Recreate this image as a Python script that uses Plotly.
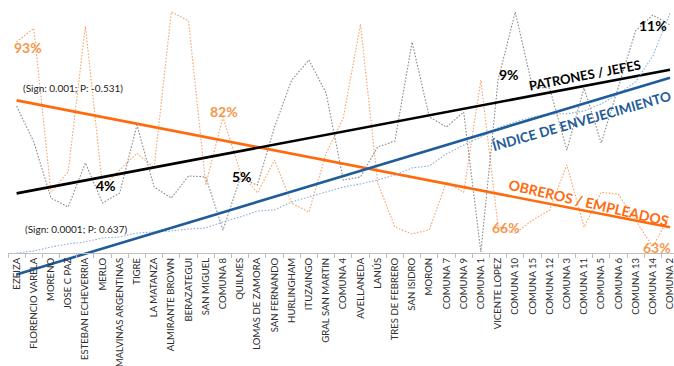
import numpy as np
import plotly.graph_objects as go

# Municipios / comunas ordered by their ageing index
municipios = [
    "EZEIZA", "FLORENCIO VARELA", "MORENO", "JOSE C PAZ", "ESTEBAN ECHEVERRIA",
    "MERLO", "MALVINAS ARGENTINAS", "TIGRE", "LA MATANZA", "ALMIRANTE BROWN",
    "BERAZATEGUI", "SAN MIGUEL", "COMUNA 8", "QUILMES", "LOMAS DE ZAMORA",
    "SAN FERNANDO", "HURLINGHAM", "ITUZAINGO", "GRAL SAN MARTIN", "COMUNA 4",
    "AVELLANEDA", "LANÚS", "TRES DE FEBRERO", "SAN ISIDRO", "MORON",
    "COMUNA 7", "COMUNA 9", "COMUNA 1", "VICENTE LOPEZ", "COMUNA 10",
    "COMUNA 15", "COMUNA 12", "COMUNA 3", "COMUNA 11", "COMUNA 5",
    "COMUNA 6", "COMUNA 13", "COMUNA 14", "COMUNA 2",
]

# % obreros / empleados
obreros_empleados = [
    93.0, 95.0, 71.0, 74.0, 95.3, 71.8, 74.3, 76.7, 74.6, 97.4,
    96.1, 72.1, 82.0, 74.0, 70.9, 75.7, 69.4, 68.1, 76.7, 81.9,
    95.6, 72.4, 65.9, 64.9, 65.5, 72.5, 71.0, 87.4, 66.0, 65.0,
    66.9, 68.4, 75.0, 65.9, 71.0, 70.7, 66.9, 63.0, 67.7,
]

# % patrones / jefes
patrones_jefes = [
    7.94, 6.48, 4.20, 3.84, 5.63, 4.00, 4.41, 7.17, 4.65, 4.20,
    5.10, 5.06, 2.90, 5.00, 4.73, 7.09, 9.00, 9.81, 8.47, 4.93,
    5.06, 6.28, 6.52, 10.54, 7.50, 7.09, 7.70, 2.01, 9.00, 11.76,
    8.72, 8.67, 6.15, 8.67, 6.44, 8.67, 11.00, 11.64, 11.24,
]

# Índice de envejecimiento
indice_envejecimiento = [
    20.0, 21.5, 24.5, 26.8, 28.3, 31.3, 32.0, 35.0, 35.8, 36.5,
    38.0, 38.8, 43.3, 47.0, 51.5, 52.3, 58.3, 62.0, 65.8, 69.5,
    71.8, 74.8, 78.5, 83.8, 85.3, 94.3, 101.0, 107.0, 113.8, 118.3,
    122.0, 124.3, 124.5, 126.5, 131.8, 139.3, 148.3, 167.8, 200.0,
]

# Points that carry a value label
etiquetas_obreros = ["EZEIZA", "COMUNA 8", "VICENTE LOPEZ", "COMUNA 14"]
etiquetas_patrones = ["MERLO", "QUILMES", "VICENTE LOPEZ", "COMUNA 13"]

W, H = 674, 366
ML, MB = 8, 76
PW, PH = W - ML, H - MB


def px(x):
    return (x - ML) / PW


def py(y):
    return (PH - y) / PH


C_OBR_THIN = "#F9A468"
C_OBR = "#FF6A0D"
C_OBR_LBL = "#F7964A"
C_PAT_THIN = "#8A8A8A"
C_IND_THIN = "#8FB2DC"
C_IND = "#1F5C99"
DOTS = "1.6px,1.6px"

idx = np.arange(len(municipios))


def tendencia(vals):
    m, b = np.polyfit(idx, np.asarray(vals, dtype=float), 1)
    return [b, m * idx[-1] + b]


fig = go.Figure()

fig.add_trace(go.Scatter(x=municipios, y=obreros_empleados, mode="lines", yaxis="y",
                         line=dict(color=C_OBR_THIN, width=1.1, dash=DOTS)))
fig.add_trace(go.Scatter(x=municipios, y=patrones_jefes, mode="lines", yaxis="y2",
                         line=dict(color=C_PAT_THIN, width=1.1, dash=DOTS)))
fig.add_trace(go.Scatter(x=municipios, y=indice_envejecimiento, mode="lines", yaxis="y3",
                         line=dict(color=C_IND_THIN, width=1.1, dash=DOTS)))

ends = [municipios[0], municipios[-1]]
fig.add_trace(go.Scatter(x=ends, y=tendencia(obreros_empleados), mode="lines", yaxis="y",
                         line=dict(color=C_OBR, width=2.6)))
fig.add_trace(go.Scatter(x=ends, y=tendencia(patrones_jefes), mode="lines", yaxis="y2",
                         line=dict(color="#000000", width=2.6)))
fig.add_trace(go.Scatter(x=ends, y=tendencia(indice_envejecimiento), mode="lines", yaxis="y3",
                         line=dict(color=C_IND, width=2.6)))

annotations = []

# value labels, tied to their points
obr_shift = {"EZEIZA": (11, -5), "COMUNA 8": (1, 6), "VICENTE LOPEZ": (8, -1), "COMUNA 14": (4, -1)}
for m in etiquetas_obreros:
    v = obreros_empleados[municipios.index(m)]
    dx, dy = obr_shift[m]
    annotations.append(dict(x=m, y=v, xref="x", yref="y", text=f"{v:.0f}%", showarrow=False,
                            xanchor="center", yanchor="middle", xshift=dx, yshift=dy,
                            font=dict(family="Lato", size=14, color=C_OBR_LBL, weight="bold")))

pat_shift = {"MERLO": (3, 18), "QUILMES": (2, 2), "VICENTE LOPEZ": (11, 6), "COMUNA 13": (17, 5)}
for m in etiquetas_patrones:
    v = patrones_jefes[municipios.index(m)]
    dx, dy = pat_shift[m]
    annotations.append(dict(x=m, y=v, xref="x", yref="y2", text=f"{v:.0f}%", showarrow=False,
                            xanchor="center", yanchor="middle", xshift=dx, yshift=dy,
                            font=dict(family="Lato", size=14, color="#000000", weight="bold")))


def texto(x, y, s, size, color, angle=0, bold=False):
    f = dict(family="Lato", size=size, color=color)
    if bold:
        f["weight"] = "bold"
    return dict(x=px(x), y=py(y), xref="paper", yref="paper", text=s, showarrow=False,
                xanchor="center", yanchor="middle", textangle=angle, font=f)


# regression statistics
annotations.append(texto(73, 88, "(Sign: 0.001; P: -0.531)", 10, "#222222"))
annotations.append(texto(76, 229, "(Sign: 0.0001; P: 0.637)", 10, "#222222"))

# series titles along the trend lines
annotations.append(texto(585, 75, "PATRONES / JEFES", 13, "#000000", -11, True))
annotations.append(texto(581, 121, "ÍNDICE DE ENVEJECIMIENTO", 13.5, C_IND, -16, True))
annotations.append(texto(589, 202, "OBREROS / EMPLEADOS", 14, C_OBR, 13, True))

x0 = -0.5
x1 = x0 + PW / 17.195

fig.update_layout(
    width=W, height=H,
    margin=dict(l=ML, r=0, t=0, b=MB),
    paper_bgcolor="white", plot_bgcolor="white",
    showlegend=False,
    annotations=annotations,
    xaxis=dict(
        type="category", range=[x0, x1], anchor="free", position=py(253),
        tickson="boundaries", ticks="outside", ticklen=4, tickcolor="#BFBFBF",
        showline=True, linecolor="#BFBFBF", linewidth=1,
        showgrid=False, zeroline=False, tickangle=-90, automargin=False,
        tickfont=dict(family="Lato", size=9.6, color="#2E2E2E"),
    ),
    yaxis=dict(range=[56.69, 99.15], visible=False, showgrid=False),
    yaxis2=dict(range=[0.4634, 12.252], visible=False, showgrid=False, overlaying="y"),
    yaxis3=dict(range=[-7.75, 209.75], visible=False, showgrid=False, overlaying="y"),
)

fig.write_html("out.html")
